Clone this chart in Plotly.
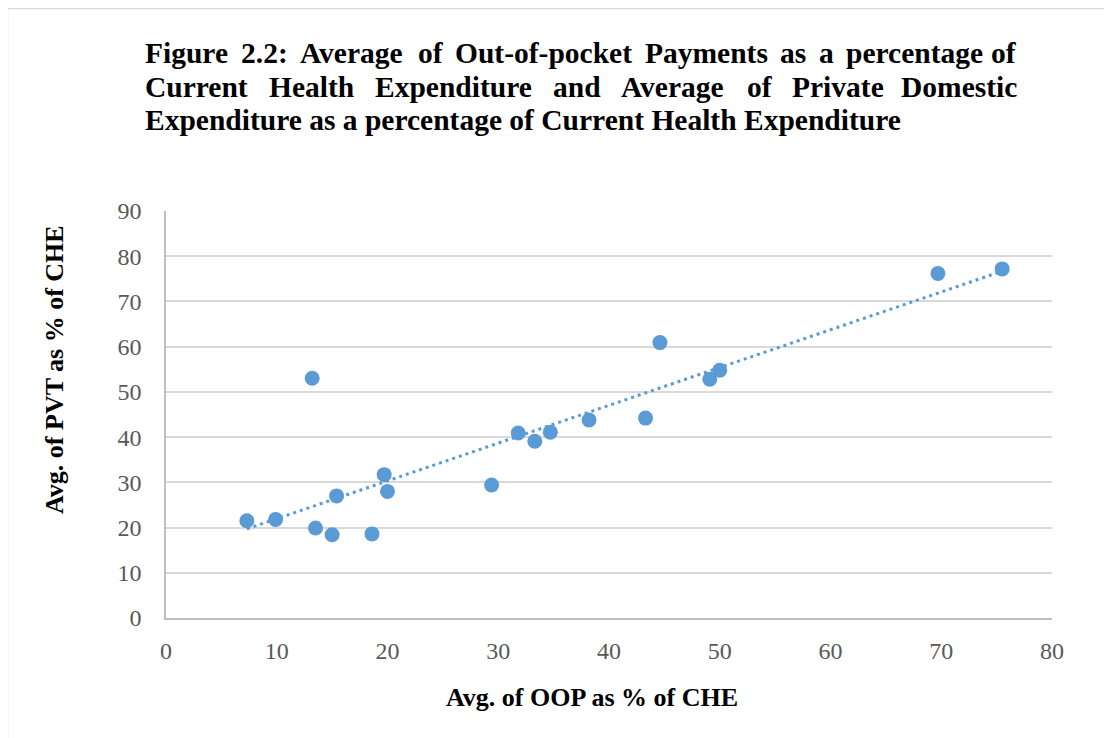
import numpy as np
import plotly.graph_objects as go

# ---- data ----
oop_pct = [7.3, 9.9, 13.2, 13.5, 15.0, 15.4, 18.6, 19.7, 20.0, 29.4,
           31.8, 33.3, 34.7, 38.2, 43.3, 44.6, 49.1, 50.0, 69.7, 75.5]
pvt_pct = [21.5, 21.8, 53.0, 19.9, 18.4, 27.0, 18.6, 31.7, 28.0, 29.4,
           40.9, 39.1, 41.1, 43.8, 44.2, 60.9, 52.8, 54.8, 76.2, 77.2]
x_ticks = [0, 10, 20, 30, 40, 50, 60, 70, 80]
y_ticks = [0, 10, 20, 30, 40, 50, 60, 70, 80, 90]

title_lines = [
    "Figure 2.2: Average of Out-of-pocket Payments as a percentage of",
    "Current Health Expenditure and Average of Private Domestic",
    "Expenditure as a percentage of Current Health Expenditure",
]
x_title = "Avg. of OOP as % of CHE"
y_title = "Avg. of PVT as % of CHE"

# ---- layout geometry (screen pixels) ----
W, H = 1112, 738
OFF = 8  # page body offset of the plot div
L, R, T, B = 166, 1052, 211, 618
pw, ph = R - L, B - T


def px_x(px):
    return (px - L) / pw


def px_y(py):
    return (B - py) / ph


BLUE = "#5b9bd5"
SERIF = "Liberation Serif, Times New Roman, serif"

# linear trendline (least squares) over the data range
slope, intercept = np.polyfit(oop_pct, pvt_pct, 1)
tx = np.array([min(oop_pct), max(oop_pct)])
ty = slope * tx + intercept

fig = go.Figure()
fig.add_trace(go.Scatter(
    x=tx, y=ty, mode="lines",
    line=dict(color=BLUE, width=3, dash="3px,4px"),
    hoverinfo="skip", showlegend=False,
))
fig.add_trace(go.Scatter(
    x=oop_pct, y=pvt_pct, mode="markers",
    marker=dict(color=BLUE, size=15, line=dict(width=0)),
    showlegend=False,
))

# ---- justified title via Times-Bold metrics ----
WID = {
    'A': 722, 'C': 722, 'D': 722, 'E': 667, 'F': 611, 'H': 778, 'O': 778,
    'P': 611, 'T': 667, 'V': 722,
    'a': 500, 'c': 444, 'd': 556, 'e': 444, 'f': 333, 'g': 500, 'h': 556,
    'i': 278, 'k': 556, 'l': 278, 'm': 833, 'n': 556, 'o': 500, 'p': 556,
    'r': 444, 's': 389, 't': 333, 'u': 556, 'v': 500, 'y': 500,
    '2': 500, '.': 250, ':': 333, '-': 333, '%': 1000, ' ': 250,
}
TFS = 29.5
left_px, right_px = 143, 1019
line_mid = [52.5, 87, 120.5]

annotations = []


def word_w(w):
    return sum(WID.get(c, 500) for c in w) / 1000 * TFS


for i, line in enumerate(title_lines):
    font = dict(family=SERIF, size=TFS, color="black", weight="bold")
    if i < 2:
        words = line.split(" ")
        widths = [word_w(w) for w in words]
        gap = (right_px - left_px - sum(widths)) / (len(words) - 1)
        xpos = left_px
        for j, w in enumerate(words):
            if j == len(words) - 1:
                annotations.append(dict(
                    text=w, xref="paper", yref="paper", x=px_x(right_px),
                    y=px_y(line_mid[i]), xanchor="right", yanchor="middle",
                    showarrow=False, font=font))
            else:
                annotations.append(dict(
                    text=w, xref="paper", yref="paper", x=px_x(xpos),
                    y=px_y(line_mid[i]), xanchor="left", yanchor="middle",
                    showarrow=False, font=font))
            xpos += widths[j] + gap
    else:
        annotations.append(dict(
            text=line, xref="paper", yref="paper", x=px_x(left_px),
            y=px_y(line_mid[i]), xanchor="left", yanchor="middle",
            showarrow=False, font=font))

# axis titles
annotations.append(dict(
    text=x_title, xref="paper", yref="paper", x=px_x(592), y=px_y(697),
    xanchor="center", yanchor="middle", showarrow=False,
    font=dict(family=SERIF, size=26, color="black", weight="bold")))
annotations.append(dict(
    text=y_title, xref="paper", yref="paper", x=px_x(54), y=px_y(370),
    xanchor="center", yanchor="middle", showarrow=False, textangle=-90,
    font=dict(family=SERIF, size=26, color="black", weight="bold")))

shapes = [dict(
    type="rect", xref="paper", yref="paper",
    x0=px_x(7.5), x1=px_x(1125), y0=px_y(750), y1=px_y(8.5),
    line=dict(color="#d9d9d9", width=1.5), fillcolor="rgba(0,0,0,0)",
    layer="below")]

ml, mt = L - OFF, T - OFF
fig.update_layout(
    width=W, height=H,
    margin=dict(l=ml, r=W - ml - pw, t=mt, b=H - mt - ph, pad=0),
    paper_bgcolor="white", plot_bgcolor="white",
    annotations=annotations, shapes=shapes,
    showlegend=False,
    xaxis=dict(
        range=[0, 80], tickvals=x_ticks, ticktext=[str(v) for v in x_ticks],
        showgrid=False, zeroline=False, showline=True,
        linecolor="#bfbfbf", linewidth=1.5, ticks="",
        tickfont=dict(family=SERIF, size=24, color="#595959"),
        ticklabelstandoff=10, fixedrange=True,
    ),
    yaxis=dict(
        range=[0, 90], tickvals=y_ticks, ticktext=[str(v) for v in y_ticks],
        showgrid=True, gridcolor="#d9d9d9", gridwidth=1.5,
        zeroline=False, showline=True,
        linecolor="#bfbfbf", linewidth=1.5, ticks="",
        tickfont=dict(family=SERIF, size=24, color="#595959"),
        ticklabelstandoff=18, fixedrange=True,
    ),
)

fig.write_html("out.html")
